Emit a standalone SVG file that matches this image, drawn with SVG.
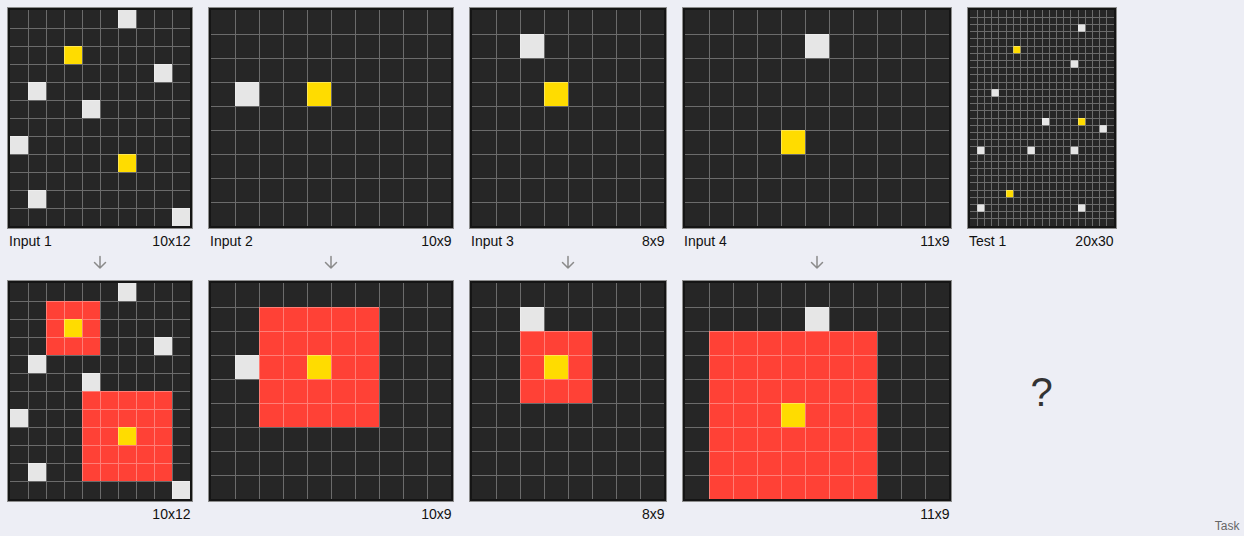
<svg xmlns="http://www.w3.org/2000/svg" width="1244" height="536" viewBox="0 0 1244 536">
<style>
.frame{fill:#151515;stroke:#8c8c8c;stroke-width:1}
.bg{fill:#262626}
.w{fill:#e6e6e6}
.y{fill:#ffdc00}
.r{fill:#ff4136}
.gl{fill:none;stroke:#ffffff;stroke-opacity:0.32;stroke-width:1;shape-rendering:crispEdges}
.lbl{font-family:"Liberation Sans",Arial,sans-serif;font-size:14px;fill:#111}
.end{text-anchor:end}
.arr{fill:none;stroke:#8a8a8a;stroke-width:1.5;stroke-linecap:round;stroke-linejoin:round}
</style>
<defs>
<path id="arrow" class="arr" d="M0,-5.5 V6 M-5.5,0.5 L0,6 L5.5,0.5"/>
</defs>
<rect width="1244" height="536" fill="#edeef5"/>

<!-- Input 1 -->
<g id="input1">
<rect class="frame" x="7.5" y="7.5" width="185" height="221"/>
<rect class="bg" x="10" y="10" width="180" height="216"/>
<rect class="w" x="118" y="10" width="18" height="18"/>
<rect class="y" x="64" y="46" width="18" height="18"/>
<rect class="w" x="154" y="64" width="18" height="18"/>
<rect class="w" x="28" y="82" width="18" height="18"/>
<rect class="w" x="82" y="100" width="18" height="18"/>
<rect class="w" x="10" y="136" width="18" height="18"/>
<rect class="y" x="118" y="154" width="18" height="18"/>
<rect class="w" x="28" y="190" width="18" height="18"/>
<rect class="w" x="172" y="208" width="18" height="18"/>
<path class="gl" d="M28 10V226M46 10V226M64 10V226M82 10V226M100 10V226M118 10V226M136 10V226M154 10V226M172 10V226M10 28H190M10 46H190M10 64H190M10 82H190M10 100H190M10 118H190M10 136H190M10 154H190M10 172H190M10 190H190M10 208H190"/>
<text class="lbl" x="9" y="245.5">Input 1</text>
<text class="lbl end" x="190.5" y="245.5">10x12</text>
</g>

<!-- Output 1 -->
<g id="output1">
<rect class="frame" x="7.5" y="280.5" width="185" height="221"/>
<rect class="bg" x="10" y="283" width="180" height="216"/>
<rect class="r" x="46" y="301" width="54" height="54"/>
<rect class="r" x="82" y="391" width="90" height="90"/>
<rect class="w" x="118" y="283" width="18" height="18"/>
<rect class="y" x="64" y="319" width="18" height="18"/>
<rect class="w" x="154" y="337" width="18" height="18"/>
<rect class="w" x="28" y="355" width="18" height="18"/>
<rect class="w" x="82" y="373" width="18" height="18"/>
<rect class="w" x="10" y="409" width="18" height="18"/>
<rect class="y" x="118" y="427" width="18" height="18"/>
<rect class="w" x="28" y="463" width="18" height="18"/>
<rect class="w" x="172" y="481" width="18" height="18"/>
<path class="gl" d="M28 283V499M46 283V499M64 283V499M82 283V499M100 283V499M118 283V499M136 283V499M154 283V499M172 283V499M10 301H190M10 319H190M10 337H190M10 355H190M10 373H190M10 391H190M10 409H190M10 427H190M10 445H190M10 463H190M10 481H190"/>
<text class="lbl end" x="190.5" y="518.5">10x12</text>
</g>

<!-- Input 2 -->
<g id="input2">
<rect class="frame" x="208.5" y="7.5" width="245" height="221"/>
<rect class="bg" x="211" y="10" width="240" height="216"/>
<rect class="w" x="235" y="82" width="24" height="24"/>
<rect class="y" x="307" y="82" width="24" height="24"/>
<path class="gl" d="M235 10V226M259 10V226M283 10V226M307 10V226M331 10V226M355 10V226M379 10V226M403 10V226M427 10V226M211 34H451M211 58H451M211 82H451M211 106H451M211 130H451M211 154H451M211 178H451M211 202H451"/>
<text class="lbl" x="210" y="245.5">Input 2</text>
<text class="lbl end" x="451.5" y="245.5">10x9</text>
</g>

<!-- Output 2 -->
<g id="output2">
<rect class="frame" x="208.5" y="280.5" width="245" height="221"/>
<rect class="bg" x="211" y="283" width="240" height="216"/>
<rect class="r" x="259" y="307" width="120" height="120"/>
<rect class="w" x="235" y="355" width="24" height="24"/>
<rect class="y" x="307" y="355" width="24" height="24"/>
<path class="gl" d="M235 283V499M259 283V499M283 283V499M307 283V499M331 283V499M355 283V499M379 283V499M403 283V499M427 283V499M211 307H451M211 331H451M211 355H451M211 379H451M211 403H451M211 427H451M211 451H451M211 475H451"/>
<text class="lbl end" x="451.5" y="518.5">10x9</text>
</g>

<!-- Input 3 -->
<g id="input3">
<rect class="frame" x="469.5" y="7.5" width="197" height="221"/>
<rect class="bg" x="472" y="10" width="192" height="216"/>
<rect class="w" x="520" y="34" width="24" height="24"/>
<rect class="y" x="544" y="82" width="24" height="24"/>
<path class="gl" d="M496 10V226M520 10V226M544 10V226M568 10V226M592 10V226M616 10V226M640 10V226M472 34H664M472 58H664M472 82H664M472 106H664M472 130H664M472 154H664M472 178H664M472 202H664"/>
<text class="lbl" x="471" y="245.5">Input 3</text>
<text class="lbl end" x="664.5" y="245.5">8x9</text>
</g>

<!-- Output 3 -->
<g id="output3">
<rect class="frame" x="469.5" y="280.5" width="197" height="221"/>
<rect class="bg" x="472" y="283" width="192" height="216"/>
<rect class="r" x="520" y="331" width="72" height="72"/>
<rect class="w" x="520" y="307" width="24" height="24"/>
<rect class="y" x="544" y="355" width="24" height="24"/>
<path class="gl" d="M496 283V499M520 283V499M544 283V499M568 283V499M592 283V499M616 283V499M640 283V499M472 307H664M472 331H664M472 355H664M472 379H664M472 403H664M472 427H664M472 451H664M472 475H664"/>
<text class="lbl end" x="664.5" y="518.5">8x9</text>
</g>

<!-- Input 4 -->
<g id="input4">
<rect class="frame" x="682.5" y="7.5" width="269" height="221"/>
<rect class="bg" x="685" y="10" width="264" height="216"/>
<rect class="w" x="805" y="34" width="24" height="24"/>
<rect class="y" x="781" y="130" width="24" height="24"/>
<path class="gl" d="M709 10V226M733 10V226M757 10V226M781 10V226M805 10V226M829 10V226M853 10V226M877 10V226M901 10V226M925 10V226M685 34H949M685 58H949M685 82H949M685 106H949M685 130H949M685 154H949M685 178H949M685 202H949"/>
<text class="lbl" x="684" y="245.5">Input 4</text>
<text class="lbl end" x="949.5" y="245.5">11x9</text>
</g>

<!-- Output 4 -->
<g id="output4">
<rect class="frame" x="682.5" y="280.5" width="269" height="221"/>
<rect class="bg" x="685" y="283" width="264" height="216"/>
<rect class="r" x="709" y="331" width="168" height="168"/>
<rect class="w" x="805" y="307" width="24" height="24"/>
<rect class="y" x="781" y="403" width="24" height="24"/>
<path class="gl" d="M709 283V499M733 283V499M757 283V499M781 283V499M805 283V499M829 283V499M853 283V499M877 283V499M901 283V499M925 283V499M685 307H949M685 331H949M685 355H949M685 379H949M685 403H949M685 427H949M685 451H949M685 475H949"/>
<text class="lbl end" x="949.5" y="518.5">11x9</text>
</g>

<!-- Test 1 -->
<g id="test1">
<rect class="frame" x="967.5" y="7.5" width="149" height="221"/>
<rect class="bg" x="970" y="10" width="144" height="216"/>
<rect class="w" x="1078" y="24.4" width="7.2" height="7.2"/>
<rect class="y" x="1013.2" y="46" width="7.2" height="7.2"/>
<rect class="w" x="1070.8" y="60.4" width="7.2" height="7.2"/>
<rect class="w" x="991.6" y="89.2" width="7.2" height="7.2"/>
<rect class="w" x="1042" y="118" width="7.2" height="7.2"/>
<rect class="y" x="1078" y="118" width="7.2" height="7.2"/>
<rect class="w" x="1099.6" y="125.2" width="7.2" height="7.2"/>
<rect class="w" x="977.2" y="146.8" width="7.2" height="7.2"/>
<rect class="w" x="1027.6" y="146.8" width="7.2" height="7.2"/>
<rect class="w" x="1070.8" y="146.8" width="7.2" height="7.2"/>
<rect class="y" x="1006" y="190" width="7.2" height="7.2"/>
<rect class="w" x="977.2" y="204.4" width="7.2" height="7.2"/>
<rect class="w" x="1078" y="204.4" width="7.2" height="7.2"/>
<path class="gl" d="M977.2 10V226M984.4 10V226M991.6 10V226M998.8 10V226M1006 10V226M1013.2 10V226M1020.4 10V226M1027.6 10V226M1034.8 10V226M1042 10V226M1049.2 10V226M1056.4 10V226M1063.6 10V226M1070.8 10V226M1078 10V226M1085.2 10V226M1092.4 10V226M1099.6 10V226M1106.8 10V226M970 17.2H1114M970 24.4H1114M970 31.6H1114M970 38.8H1114M970 46H1114M970 53.2H1114M970 60.4H1114M970 67.6H1114M970 74.8H1114M970 82H1114M970 89.2H1114M970 96.4H1114M970 103.6H1114M970 110.8H1114M970 118H1114M970 125.2H1114M970 132.4H1114M970 139.6H1114M970 146.8H1114M970 154H1114M970 161.2H1114M970 168.4H1114M970 175.6H1114M970 182.8H1114M970 190H1114M970 197.2H1114M970 204.4H1114M970 211.6H1114M970 218.8H1114"/>
<text class="lbl" x="969" y="245.5">Test 1</text>
<text class="lbl end" x="1113.5" y="245.5">20x30</text>
</g>

<!-- Test output placeholder -->
<g id="test1-output">
<text x="1041.5" y="406" text-anchor="middle" style="font-family:'Liberation Sans',Arial,sans-serif;font-size:40px;fill:#333">?</text>
</g>

<!-- Connectors -->
<g id="connectors">
<use href="#arrow" x="100" y="262"/>
<use href="#arrow" x="331" y="262"/>
<use href="#arrow" x="568" y="262"/>
<use href="#arrow" x="817" y="262"/>
</g>

<g id="footer">
<text x="1239.5" y="529.5" text-anchor="end" style="font-family:'Liberation Sans',Arial,sans-serif;font-size:12px;fill:#666">Task</text>
</g>
</svg>
